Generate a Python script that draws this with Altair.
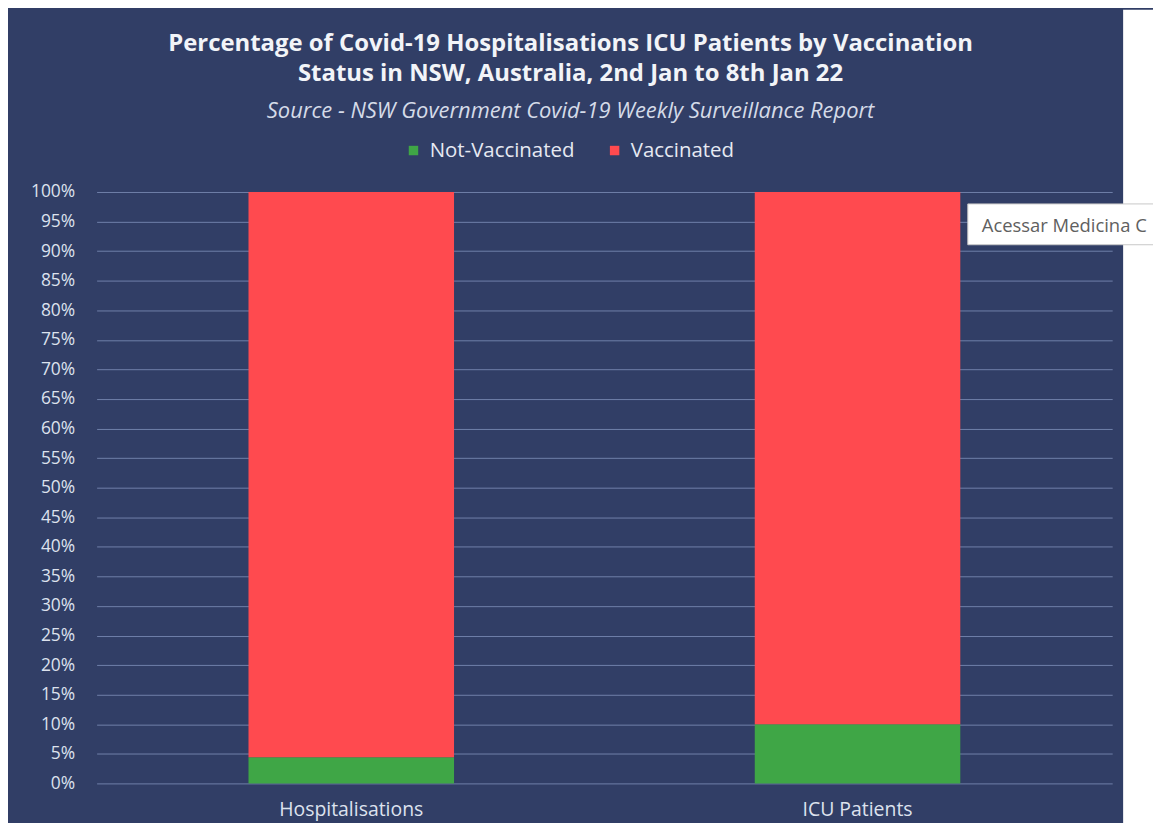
import altair as alt
import pandas as pd

categories = ["Hospitalisations", "ICU Patients"]
statuses = ["Not-Vaccinated", "Vaccinated"]
not_vaccinated = [4.4, 10.0]
vaccinated = [95.6, 90.0]
y_ticks = list(range(0, 101, 5))
status_colors = ["#3fa646", "#ff4a4f"]

title_lines = ["Percentage of Covid-19  Hospitalisations ICU Patients by Vaccination",
               "Status in NSW, Australia, 2nd Jan to 8th Jan 22"]
subtitle = "Source - NSW Government Covid-19 Weekly Surveillance Report"
tooltip_text = ["Acessar Medicina C"]

rows = []
for i, c in enumerate(categories):
    rows.append({"Category": c, "Status": statuses[0], "Value": not_vaccinated[i], "ord": 0})
    rows.append({"Category": c, "Status": statuses[1], "Value": vaccinated[i], "ord": 1})
df = pd.DataFrame(rows)

BG = "#313e66"
FONT = "Open Sans"

bars = alt.Chart(df).mark_bar().encode(
    x=alt.X("Category:N", sort=categories, title=None,
            scale=alt.Scale(paddingInner=0.594, paddingOuter=0.30),
            axis=alt.Axis(labelAngle=0, labelFontSize=19.5, labelColor="#dde2ee",
                          labelFont=FONT, labelPadding=17, domain=False, ticks=False, grid=False)),
    y=alt.Y("Value:Q", stack="zero", title=None,
            scale=alt.Scale(domain=[0, 100], nice=False),
            axis=alt.Axis(values=y_ticks, labelExpr="datum.value + '%'", labelFontSize=17.5,
                          labelColor="#dde2ee", labelFont=FONT, labelPadding=22,
                          domain=False, ticks=False, grid=True, gridColor="#7b8cb6",
                          gridWidth=1, gridOpacity=0.85)),
    color=alt.Color("Status:N", sort=statuses,
                    scale=alt.Scale(domain=statuses, range=status_colors),
                    legend=alt.Legend(title=None, orient="none", direction="horizontal",
                                      legendX=308, legendY=-52, symbolType="square",
                                      symbolSize=90, symbolStrokeWidth=0, labelFontSize=20.5,
                                      labelFont=FONT, labelColor="#e6e9f2", columnPadding=30,
                                      labelOffset=6)),
    order=alt.Order("ord:Q"),
)

tip_df = pd.DataFrame({"t": tooltip_text})

white_strip = alt.Chart(tip_df).mark_rect(color="white", clip=False).encode(
    x=alt.value(1031), x2=alt.value(1100), y=alt.value(-183), y2=alt.value(649)
)
tip_box = alt.Chart(tip_df).mark_rect(fill="white", stroke="#c8c8c8", strokeWidth=1, clip=False).encode(
    x=alt.value(875), x2=alt.value(1090), y=alt.value(12), y2=alt.value(53)
)
tip_text = alt.Chart(tip_df).mark_text(align="left", baseline="middle", fontSize=18.5,
                                       font=FONT, color="#606060", clip=False).encode(
    x=alt.value(889), y=alt.value(34), text="t:N"
)

chart = alt.layer(bars, white_strip, tip_box, tip_text).properties(
    width=1020,
    height=594,
    padding={"left": 89, "top": 183, "right": 41, "bottom": 38},
    autosize=alt.AutoSizeParams(type="none"),
    background=BG,
    title=alt.TitleParams(text=title_lines, subtitle=subtitle, anchor="middle", frame="group",
                          dx=-34, fontSize=24, font=FONT, fontWeight="bold", color="#f2f4f8",
                          lineHeight=31, subtitleFont=FONT, subtitleFontSize=22,
                          subtitleFontStyle="italic", subtitleColor="#d5dbe8",
                          subtitlePadding=15, offset=-113),
).configure_view(stroke=None)

chart.save("out.html", embed_options={"renderer": "svg", "actions": False})
